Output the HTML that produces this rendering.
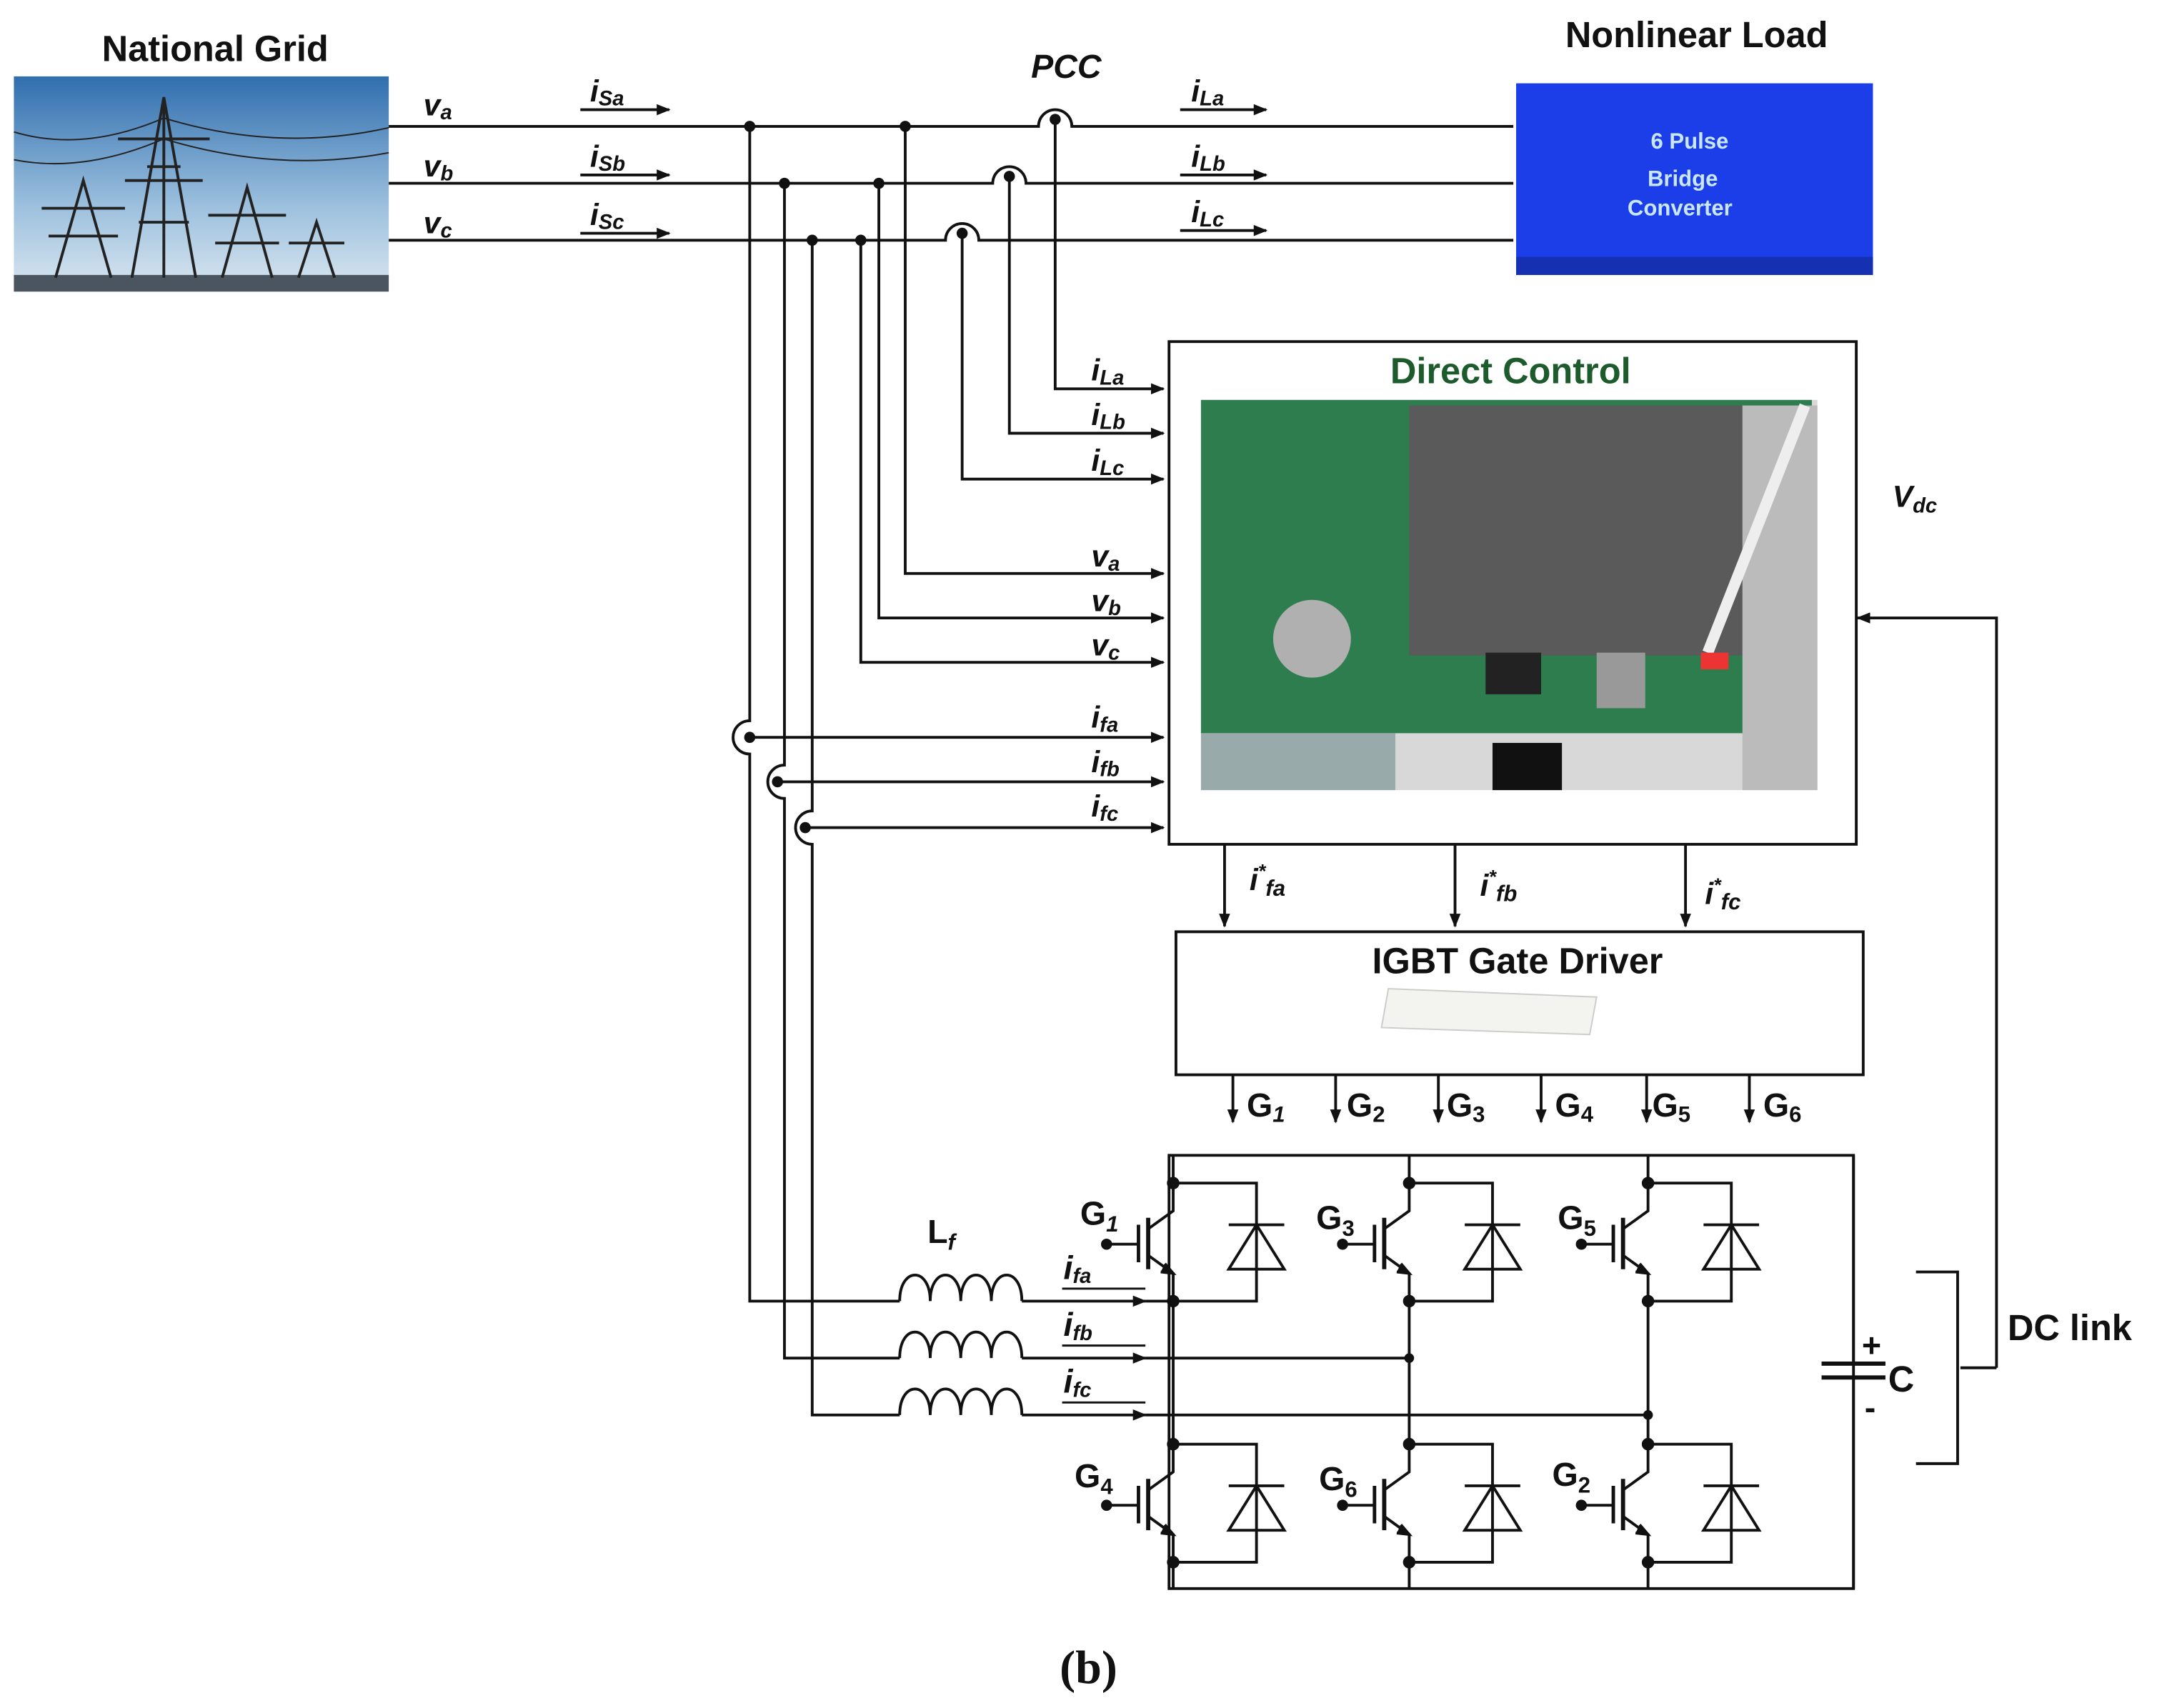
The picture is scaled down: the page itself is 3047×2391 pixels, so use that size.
<!DOCTYPE html>
<html><head><meta charset="utf-8"><style>
html,body{margin:0;padding:0;background:#fff;}
svg{display:block;}
text{font-family:"Liberation Sans",sans-serif;font-weight:bold;fill:#111;}
.it{font-style:italic;}
</style></head><body>
<svg width="3047" height="2391" viewBox="0 0 1568 1230" preserveAspectRatio="none" xmlns="http://www.w3.org/2000/svg">
<defs>
<marker id="ar" markerWidth="10" markerHeight="8" refX="9" refY="4" orient="auto" markerUnits="userSpaceOnUse"><path d="M0,0 L10,4 L0,8 z" fill="#111"/></marker>
<linearGradient id="sky" x1="0" y1="0" x2="0" y2="1"><stop offset="0" stop-color="#2f6eae"/><stop offset="0.6" stop-color="#9cc0de"/><stop offset="1" stop-color="#d9e6ef"/></linearGradient>
<g id="sw" stroke="#111" stroke-width="2" fill="none">
<path d="M0,0 V20 L-18,33 M-18,52 L0,65 V85"/>
<path d="M-6,58 L0,65 L-9,64" fill="#111"/>
<line x1="-18" y1="25" x2="-18" y2="62" stroke-width="3"/>
<line x1="-25" y1="30" x2="-25" y2="57" stroke-width="2.5"/>
<line x1="-48" y1="44" x2="-25" y2="44"/>
<circle cx="-48" cy="44" r="3" fill="#111"/>
<path d="M0,0 H60 V85 H0"/>
<path d="M40,62 H80 L60,30 Z"/>
<line x1="40" y1="30" x2="80" y2="30"/>
<circle cx="0" cy="0" r="3.5" fill="#111"/>
<circle cx="0" cy="85" r="3.5" fill="#111"/>
</g>
<path id="ind" d="M0,0 c0,-25 22,-25 22,0 c0,-25 22,-25 22,0 c0,-25 22,-25 22,0 c0,-25 22,-25 22,0" fill="none" stroke="#111" stroke-width="2"/>
</defs>

<!-- National grid -->
<text x="155" y="44" font-size="26" text-anchor="middle">National Grid</text>
<rect x="10" y="55" width="270" height="155" fill="url(#sky)"/>
<rect x="10" y="198" width="270" height="12" fill="#4a5560"/>
<g stroke="#222" stroke-width="2" fill="none">
<path d="M95,200 L118,70 L141,200 M100,160 H136 M106,120 H130 M85,100 H151 M90,130 H146 M118,70 V200"/>
<path d="M40,200 L60,130 L80,200 M30,150 H90 M35,170 H85"/>
<path d="M160,200 L178,135 L196,200 M150,155 H206 M155,175 H201"/>
<path d="M215,200 L228,160 L241,200 M208,175 H248"/>
<path d="M10,95 Q60,110 118,85 Q200,110 280,92 M10,115 Q60,125 118,100 Q200,125 280,110" stroke-width="1"/>
</g>

<!-- main lines -->
<g stroke="#111" stroke-width="2" fill="none">
<path d="M280,91 H748 a12,12 0 0 1 24,0 H1090"/>
<path d="M280,132 H715 a12,12 0 0 1 24,0 H1090"/>
<path d="M280,173 H681 a12,12 0 0 1 24,0 H1090"/>
<!-- long taps -->
<path d="M540,91 V519 a12,12 0 0 0 0,24 V937 H648"/>
<path d="M565,132 V551 a12,12 0 0 0 0,24 V978 H648"/>
<path d="M585,173 V584 a12,12 0 0 0 0,24 V1019 H648"/>
<path d="M652,91 V413 H838" marker-end="url(#ar)"/>
<path d="M633,132 V445 H838" marker-end="url(#ar)"/>
<path d="M620,173 V477 H838" marker-end="url(#ar)"/>
<path d="M760,86 V280 H838" marker-end="url(#ar)"/>
<path d="M727,127 V312 H838" marker-end="url(#ar)"/>
<path d="M693,168 V345 H838" marker-end="url(#ar)"/>
<path d="M540,531 H838" marker-end="url(#ar)"/>
<path d="M560,563 H838" marker-end="url(#ar)"/>
<path d="M580,596 H838" marker-end="url(#ar)"/>
<!-- current arrows -->
<path d="M418,79 H482" marker-end="url(#ar)"/>
<path d="M418,126 H482" marker-end="url(#ar)"/>
<path d="M418,168 H482" marker-end="url(#ar)"/>
<path d="M850,79 H912" marker-end="url(#ar)"/>
<path d="M850,126 H912" marker-end="url(#ar)"/>
<path d="M850,166 H912" marker-end="url(#ar)"/>
</g>
<g fill="#111">
<circle cx="540" cy="91" r="4"/><circle cx="652" cy="91" r="4"/><circle cx="760" cy="86" r="4"/>
<circle cx="565" cy="132" r="4"/><circle cx="633" cy="132" r="4"/><circle cx="727" cy="127" r="4"/>
<circle cx="585" cy="173" r="4"/><circle cx="620" cy="173" r="4"/><circle cx="693" cy="168" r="4"/>
<circle cx="540" cy="531" r="4"/><circle cx="560" cy="563" r="4"/><circle cx="580" cy="596" r="4"/>
</g>
<g font-size="22" class="it">
<text x="305" y="83" class="it">v<tspan font-size="15" dy="3">a</tspan></text>
<text x="305" y="127" class="it">v<tspan font-size="15" dy="3">b</tspan></text>
<text x="305" y="168" class="it">v<tspan font-size="15" dy="3">c</tspan></text>
<text x="425" y="73" class="it">i<tspan font-size="15" dy="3">Sa</tspan></text>
<text x="425" y="120" class="it">i<tspan font-size="15" dy="3">Sb</tspan></text>
<text x="425" y="162" class="it">i<tspan font-size="15" dy="3">Sc</tspan></text>
<text x="858" y="73" class="it">i<tspan font-size="15" dy="3">La</tspan></text>
<text x="858" y="120" class="it">i<tspan font-size="15" dy="3">Lb</tspan></text>
<text x="858" y="160" class="it">i<tspan font-size="15" dy="3">Lc</tspan></text>
<text x="786" y="274" class="it">i<tspan font-size="15" dy="3">La</tspan></text>
<text x="786" y="306" class="it">i<tspan font-size="15" dy="3">Lb</tspan></text>
<text x="786" y="339" class="it">i<tspan font-size="15" dy="3">Lc</tspan></text>
<text x="786" y="408" class="it">v<tspan font-size="15" dy="3">a</tspan></text>
<text x="786" y="440" class="it">v<tspan font-size="15" dy="3">b</tspan></text>
<text x="786" y="472" class="it">v<tspan font-size="15" dy="3">c</tspan></text>
<text x="786" y="524" class="it">i<tspan font-size="15" dy="3">fa</tspan></text>
<text x="786" y="556" class="it">i<tspan font-size="15" dy="3">fb</tspan></text>
<text x="786" y="588" class="it">i<tspan font-size="15" dy="3">fc</tspan></text>
</g>
<text x="768" y="56" font-size="24" text-anchor="middle" class="it">PCC</text>

<!-- Nonlinear load -->
<text x="1222" y="34" font-size="26" text-anchor="middle">Nonlinear Load</text>
<rect x="1092" y="60" width="257" height="138" fill="#1c3ee8"/>
<rect x="1092" y="185" width="257" height="13" fill="#1530b0"/>
<text x="1217" y="107" font-size="16" text-anchor="middle" style="fill:#c9e6ff">6 Pulse</text>
<text x="1212" y="134" font-size="16" text-anchor="middle" style="fill:#c9e6ff">Bridge</text>
<text x="1210" y="155" font-size="16" text-anchor="middle" style="fill:#c9e6ff">Converter</text>

<!-- Direct control -->
<rect x="842" y="246" width="495" height="362" fill="#fff" stroke="#111" stroke-width="2"/>
<text x="1088" y="276" font-size="26" text-anchor="middle" style="fill:#1d5a2c">Direct Control</text>
<rect x="865" y="288" width="444" height="281" fill="#d8d8d8"/>
<rect x="865" y="288" width="440" height="240" fill="#2e7d4f"/>
<rect x="865" y="528" width="140" height="41" fill="#9aa"/>
<rect x="1015" y="292" width="240" height="180" fill="#5a5a5a"/>
<rect x="1255" y="292" width="54" height="277" fill="#bbb"/>
<circle cx="945" cy="460" r="28" fill="#b0b0b0"/>
<rect x="1070" y="470" width="40" height="30" fill="#222"/>
<rect x="1150" y="470" width="35" height="40" fill="#999"/>
<rect x="1075" y="535" width="50" height="34" fill="#111"/>
<path d="M1300,292 L1230,470" stroke="#eee" stroke-width="8"/>
<rect x="1225" y="470" width="20" height="12" fill="#e33"/>

<!-- Vdc -->
<text x="1363" y="365" font-size="22" class="it">V<tspan font-size="15" dy="4">dc</tspan></text>
<g stroke="#111" stroke-width="2" fill="none">
<path d="M1438,985 V445 H1338" marker-end="url(#ar)"/>
<path d="M1412,985 H1438"/>
<path d="M1380,916 H1410 V1054 H1380"/>
<path d="M882,608 V667" marker-end="url(#ar)"/>
<path d="M1048,608 V667" marker-end="url(#ar)"/>
<path d="M1214,608 V667" marker-end="url(#ar)"/>
</g>
<g font-size="22">
<text x="900" y="641" class="it">i<tspan font-size="14" dy="-9">*</tspan><tspan font-size="16" dy="13">fa</tspan></text>
<text x="1066" y="645" class="it">i<tspan font-size="14" dy="-9">*</tspan><tspan font-size="16" dy="13">fb</tspan></text>
<text x="1228" y="651" class="it">i<tspan font-size="14" dy="-9">*</tspan><tspan font-size="16" dy="13">fc</tspan></text>
</g>

<!-- IGBT gate driver -->
<rect x="847" y="671" width="495" height="103" fill="#fff" stroke="#111" stroke-width="2"/>
<text x="1093" y="701" font-size="26" text-anchor="middle">IGBT Gate Driver</text>
<path d="M1000,712 L1150,718 L1145,745 L995,740 Z" fill="#f3f3f0" stroke="#ccc"/>
<g stroke="#111" stroke-width="2">
<line x1="888" y1="774" x2="888" y2="808" marker-end="url(#ar)"/>
<line x1="962" y1="774" x2="962" y2="808" marker-end="url(#ar)"/>
<line x1="1036" y1="774" x2="1036" y2="808" marker-end="url(#ar)"/>
<line x1="1110" y1="774" x2="1110" y2="808" marker-end="url(#ar)"/>
<line x1="1186" y1="774" x2="1186" y2="808" marker-end="url(#ar)"/>
<line x1="1260" y1="774" x2="1260" y2="808" marker-end="url(#ar)"/>
</g>
<g font-size="24">
<text x="898" y="804">G<tspan font-size="16" dy="4" class="it">1</tspan></text>
<text x="970" y="804">G<tspan font-size="16" dy="4">2</tspan></text>
<text x="1042" y="804">G<tspan font-size="16" dy="4">3</tspan></text>
<text x="1120" y="804">G<tspan font-size="16" dy="4">4</tspan></text>
<text x="1190" y="804">G<tspan font-size="16" dy="4">5</tspan></text>
<text x="1270" y="804">G<tspan font-size="16" dy="4">6</tspan></text>
</g>

<!-- bridge -->
<g stroke="#111" stroke-width="2" fill="none">
<path d="M842,832 H1335 V1144 H842 Z"/>
<path d="M845,832 V852 M1015,832 V852 M1187,832 V852"/>
<path d="M845,937 V1040 M1015,937 V1040 M1187,937 V1040"/>
<path d="M845,1125 V1144 M1015,1125 V1144 M1187,1125 V1144"/>
<path d="M736,937 H825" marker-end="url(#ar)"/>
<path d="M736,978 H825" marker-end="url(#ar)"/>
<path d="M736,1019 H825" marker-end="url(#ar)"/>
<path d="M825,937 H845 M825,978 H1015 M825,1019 H1187"/>
<path d="M1335,832 V982 M1335,992 V1144"/>
<path d="M1312,982 H1358 M1312,992 H1358" stroke-width="3"/>
<path d="M765,928 H825 M765,969 H825 M765,1010 H825" stroke-width="1.5"/>
</g>
<use href="#ind" x="648" y="937"/>
<use href="#ind" x="648" y="978"/>
<use href="#ind" x="648" y="1019"/>
<use href="#sw" x="845" y="852"/>
<use href="#sw" x="1015" y="852"/>
<use href="#sw" x="1187" y="852"/>
<use href="#sw" x="845" y="1040"/>
<use href="#sw" x="1015" y="1040"/>
<use href="#sw" x="1187" y="1040"/>
<g fill="#111"><circle cx="1015" cy="978" r="3.5"/><circle cx="1187" cy="1019" r="3.5"/></g>
<g font-size="24">
<text x="668" y="895">L<tspan font-size="16" dy="5" class="it">f</tspan></text>
<text x="778" y="882">G<tspan font-size="16" dy="5" class="it">1</tspan></text>
<text x="948" y="885">G<tspan font-size="16" dy="5">3</tspan></text>
<text x="1122" y="885">G<tspan font-size="16" dy="5">5</tspan></text>
<text x="774" y="1071">G<tspan font-size="16" dy="5">4</tspan></text>
<text x="950" y="1073">G<tspan font-size="16" dy="5">6</tspan></text>
<text x="1118" y="1070">G<tspan font-size="16" dy="5">2</tspan></text>
<text x="766" y="921" class="it">i<tspan font-size="15" dy="3">fa</tspan></text>
<text x="766" y="962" class="it">i<tspan font-size="15" dy="3">fb</tspan></text>
<text x="766" y="1003" class="it">i<tspan font-size="15" dy="3">fc</tspan></text>
<text x="1341" y="977">+</text>
<text x="1343" y="1022">-</text>
<text x="1360" y="1002" font-size="26">C</text>
<text x="1446" y="965" font-size="26">DC link</text>
</g>
<text x="784" y="1212" font-size="34" text-anchor="middle" style="font-family:'Liberation Serif',serif">(b)</text>
</svg>
</body></html>
